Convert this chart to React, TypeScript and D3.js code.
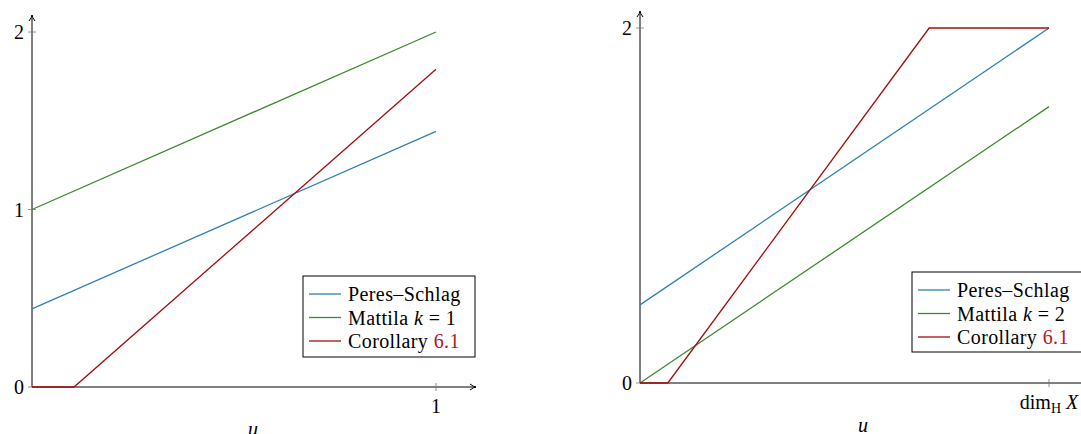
import React from "react";
import * as d3 from "d3";

// ---- data ----
const leftX = [0, 1];
const leftPeres = [0.44, 1.44];
const leftMattila = [1, 2];
const leftCorX = [0, 0.104, 1];
const leftCorY = [0, 0, 1.79];

const rightX = [0, 1];
const rightPeres = [0.44, 2];
const rightMattila = [0, 1.557];
const rightCorX = [0, 0.068, 0.707, 1];
const rightCorY = [0, 0, 2, 2];

const yTicksLeft = [0, 1, 2];
const yTicksRight = [0, 2];
const xTickLeft = "1";

const BLUE = "#2f7fb2";
const GREEN = "#3b8a2f";
const RED = "#a30d0d";
const LINKRED = "#b5161c";
const FONT = "'Liberation Serif', 'DejaVu Serif', serif";

type Panel = {
  x0: number; x1: number; y0: number; y2: number; yTop: number; xEnd: number;
  series: { xs: number[]; ys: number[]; color: string }[];
  yTicks: number[];
  xTickLabel: React.ReactNode;
  legend: { x: number; y: number; w: number; h: number; k: string };
  uX: number;
};

function Arrow({ x, y, dir }: { x: number; y: number; dir: "up" | "right" }) {
  const d = dir === "up"
    ? `M${x - 3},${y + 6} Q${x},${y + 2} ${x},${y} Q${x},${y + 2} ${x + 3},${y + 6}`
    : `M${x - 6},${y - 3} Q${x - 2},${y} ${x},${y} Q${x - 2},${y} ${x - 6},${y + 3}`;
  return <path d={d} fill="none" stroke="#000" strokeWidth={1} />;
}

function PanelView({ p }: { p: Panel }) {
  const xs = d3.scaleLinear().domain([0, 1]).range([p.x0, p.x1]);
  const ys = d3.scaleLinear().domain([0, 2]).range([p.y0, p.y2]);
  const line = d3.line<[number, number]>().x((d) => xs(d[0])).y((d) => ys(d[1]));
  const lg = p.legend;
  const rows = [
    { color: BLUE, label: <tspan>Peres–Schlag</tspan> },
    { color: GREEN, label: <tspan>Mattila <tspan fontStyle="italic">k</tspan> = {p.legend.k}</tspan> },
    { color: RED, label: <tspan>Corollary <tspan fill={LINKRED}>6.1</tspan></tspan> },
  ];
  return (
    <g fontFamily={FONT}>
      {/* axes */}
      <line x1={p.x0} x2={p.x0} y1={p.y0} y2={p.yTop} stroke="#000" strokeWidth={1} />
      <Arrow x={p.x0} y={p.yTop} dir="up" />
      <line x1={p.x0} x2={p.xEnd} y1={p.y0} y2={p.y0} stroke="#000" strokeWidth={1} />
      <Arrow x={p.xEnd} y={p.y0} dir="right" />
      {p.yTicks.map((t) => (
        <g key={t}>
          <line x1={p.x0 - 4} x2={p.x0 + 4} y1={ys(t)} y2={ys(t)} stroke="#777" strokeWidth={0.8} />
          <text x={p.x0 - 13} y={ys(t)} dy="0.35em" fontSize={20} textAnchor="middle">{t}</text>
        </g>
      ))}
      <line x1={xs(1)} x2={xs(1)} y1={p.y0 - 4} y2={p.y0 + 4} stroke="#777" strokeWidth={0.8} />
      <text x={xs(1)} y={p.y0 + 26} fontSize={20} textAnchor="middle">{p.xTickLabel}</text>
      <text x={p.uX} y={p.y0 + 49} fontSize={20} fontStyle="italic" textAnchor="middle">u</text>
      {/* series */}
      {p.series.map((s, i) => (
        <path key={i} d={line(s.xs.map((x, j) => [x, s.ys[j]]) as [number, number][]) || ""}
          fill="none" stroke={s.color} strokeWidth={1.3} />
      ))}
      {/* legend */}
      <rect x={lg.x} y={lg.y} width={lg.w} height={lg.h} fill="#fff" stroke="#000" strokeWidth={1} />
      {rows.map((r, i) => {
        const cy = lg.y + 18 + i * 23.5;
        return (
          <g key={i}>
            <line x1={lg.x + 6} x2={lg.x + 38} y1={cy} y2={cy} stroke={r.color} strokeWidth={1.3} />
            <text x={lg.x + 45} y={cy} dy="0.35em" fontSize={20} letterSpacing={0.4}>{r.label}</text>
          </g>
        );
      })}
    </g>
  );
}

export default function App() {
  const left: Panel = {
    x0: 32, x1: 436, y0: 387, y2: 32, yTop: 15, xEnd: 476,
    series: [
      { xs: leftX, ys: leftPeres, color: BLUE },
      { xs: leftX, ys: leftMattila, color: GREEN },
      { xs: leftCorX, ys: leftCorY, color: RED },
    ],
    yTicks: yTicksLeft,
    xTickLabel: xTickLeft,
    legend: { x: 303, y: 276, w: 172, h: 81, k: "1" },
    uX: 253,
  };
  const right: Panel = {
    x0: 640, x1: 1049, y0: 383, y2: 28, yTop: 11, xEnd: 1088,
    series: [
      { xs: rightX, ys: rightPeres, color: BLUE },
      { xs: rightX, ys: rightMattila, color: GREEN },
      { xs: rightCorX, ys: rightCorY, color: RED },
    ],
    yTicks: yTicksRight,
    xTickLabel: <tspan>dim<tspan fontSize={14} dy="4">H</tspan><tspan dy="-4"> </tspan><tspan fontStyle="italic">X</tspan></tspan>,
    legend: { x: 912, y: 272, w: 172, h: 80, k: "2" },
    uX: 863,
  };
  return (
    <svg width={1081} height={434} style={{ position: "absolute", left: 0, top: 0, background: "#fff" }}>
      <PanelView p={left} />
      <PanelView p={right} />
    </svg>
  );
}
